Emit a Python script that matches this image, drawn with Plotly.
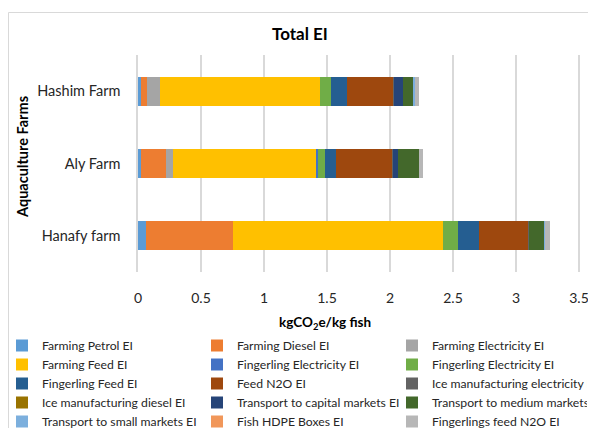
import plotly.graph_objects as go

farms = ["Hanafy farm", "Aly Farm", "Hashim Farm"]

series_names = [
    "Farming Petrol EI", "Farming Diesel EI", "Farming Electricity EI",
    "Farming Feed EI", "Fingerling Electricity EI", "Fingerling Electricity EI",
    "Fingerling Feed EI", "Feed N2O EI", "Ice manufacturing electricity EI",
    "Ice manufacturing diesel EI", "Transport to capital markets EI", "Transport to medium markets EI",
    "Transport to small markets EI", "Fish HDPE Boxes EI", "Fingerlings feed N2O EI",
]

# values per series: [Hanafy farm, Aly Farm, Hashim Farm]
farming_petrol = [0.067, 0.020, 0.020]
farming_diesel = [0.685, 0.200, 0.055]
farming_electricity = [0.0, 0.061, 0.100]
farming_feed = [1.672, 1.133, 1.267]
fingerling_electricity_1 = [0.0, 0.016, 0.0]
fingerling_electricity_2 = [0.113, 0.058, 0.093]
fingerling_feed = [0.167, 0.080, 0.127]
feed_n2o = [0.392, 0.450, 0.362]
ice_electricity = [0.005, 0.005, 0.010]
ice_diesel = [0.0, 0.0, 0.0]
transport_capital = [0.0, 0.040, 0.069]
transport_medium = [0.122, 0.165, 0.086]
transport_small = [0.008, 0.0, 0.013]
fish_hdpe = [0.0, 0.0, 0.0]
fingerlings_feed_n2o = [0.042, 0.030, 0.030]

series_values = [
    farming_petrol, farming_diesel, farming_electricity, farming_feed,
    fingerling_electricity_1, fingerling_electricity_2, fingerling_feed, feed_n2o,
    ice_electricity, ice_diesel, transport_capital, transport_medium,
    transport_small, fish_hdpe, fingerlings_feed_n2o,
]

colors = [
    "#5B9BD5", "#ED7D31", "#A5A5A5", "#FFC000", "#4472C4", "#70AD47",
    "#255E91", "#9E480E", "#636363", "#997300", "#264478", "#43682B",
    "#7CAFDD", "#F1975A", "#B7B7B7",
]

x_ticks = [0, 0.5, 1, 1.5, 2, 2.5, 3, 3.5]

FONT = "Lato, 'Open Sans', sans-serif"

fig = go.Figure()
for name, vals, col in zip(series_names, series_values, colors):
    fig.add_trace(go.Bar(
        y=farms, x=vals, name=name, orientation="h",
        marker=dict(color=col, line=dict(width=0)),
    ))

# The page body adds an 8px offset, so the figure is 588x420 and all
# pixel positions below are in figure coordinates (screen - 8).
W, H = 588, 420
L, T, B = 130, 47, 264
X35 = 571          # pixel of the 3.5 gridline
R = W              # plot area extends to the right edge
pw, ph = R - L, B - T
x_max = 3.5 * pw / (X35 - L)

def px(xp):
    return (xp - L) / pw

def py(yp):
    return (B - yp) / ph

fig.update_layout(
    width=W, height=H,
    margin=dict(l=L, r=W - R, t=T, b=H - B, autoexpand=False),
    barmode="stack", bargap=0.6,
    paper_bgcolor="white", plot_bgcolor="white",
    font=dict(family=FONT, color="#262626", size=14),
    xaxis=dict(range=[0, x_max], tickvals=x_ticks, ticktext=[str(v) for v in x_ticks],
               showgrid=True, gridcolor="#D9D9D9", gridwidth=1.5, zeroline=False,
               showline=False, ticks="", tickfont=dict(size=14, color="#262626"),
               ticklabelstandoff=16, fixedrange=True, automargin=False),
    yaxis=dict(showline=True, linecolor="#D9D9D9", linewidth=1.5, ticks="",
               tickfont=dict(size=14.5, color="#262626"), ticklabelstandoff=13,
               showgrid=False, fixedrange=True, automargin=False),
    showlegend=True,
    legend=dict(orientation="h", x=px(-6), xanchor="left", y=py(323), yanchor="top",
                entrywidth=150, entrywidthmode="pixels", traceorder="normal",
                font=dict(size=12.2, color="#262626", family=FONT),
                bgcolor="rgba(0,0,0,0)", itemclick=False, itemdoubleclick=False),
    annotations=[
        dict(text="<b>Total EI</b>", x=px(292), y=py(25), xref="paper", yref="paper",
             showarrow=False, xanchor="center", yanchor="middle", font=dict(size=17, color="#000000")),
        dict(text="<b>kgCO<sub>2</sub>e/kg fish</b>", x=px(317), y=py(315), xref="paper", yref="paper",
             showarrow=False, xanchor="center", yanchor="middle", font=dict(size=13.5, color="#000000")),
        dict(text="<b>Aquaculture Farms</b>", x=px(14), y=py(149), xref="paper", yref="paper",
             showarrow=False, xanchor="center", yanchor="middle", textangle=-90,
             font=dict(size=14.5, color="#000000")),
    ],
    shapes=[
        dict(type="rect", xref="paper", yref="paper", x0=px(0.5), x1=px(640), y0=py(500), y1=py(4.5),
             line=dict(color="#D9D9D9", width=1), fillcolor="rgba(0,0,0,0)", layer="below"),
    ],
)

fig.write_html("out.html")
